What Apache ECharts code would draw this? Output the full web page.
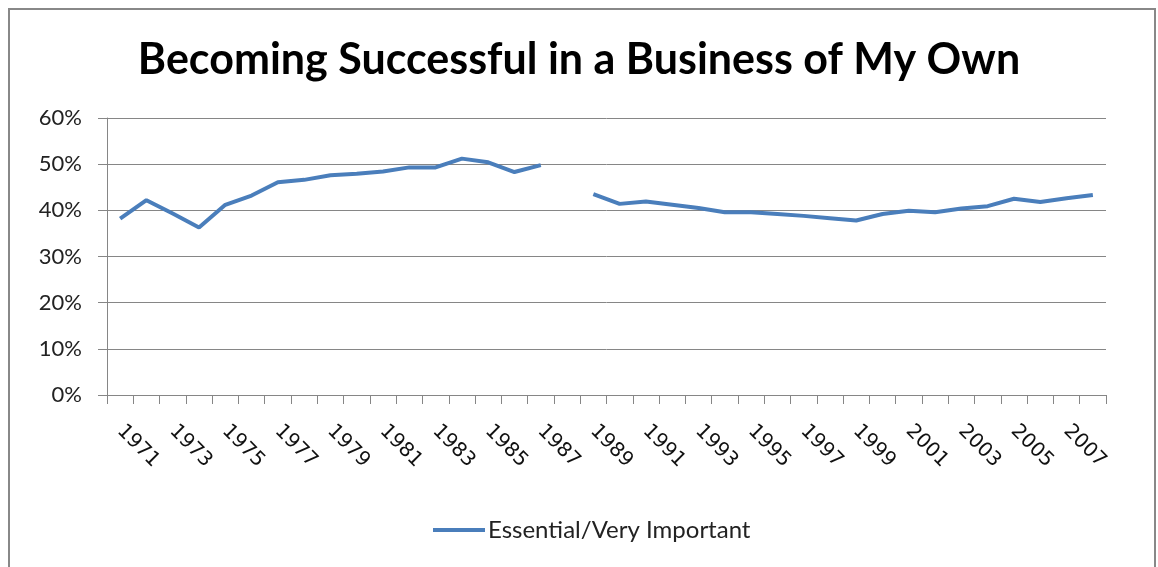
<!DOCTYPE html>
<html>
<head>
<meta charset="utf-8">
<script src="https://cdn.jsdelivr.net/npm/echarts@6/dist/echarts.min.js"></script>
<style>
html,body{margin:0;padding:0;background:#fff;}
#c{width:1158px;height:567px;}
</style>
</head>
<body>
<div id="c"></div>
<script>
var titleText = 'Becoming Successful in a Business of My Own';
var seriesName = 'Essential/Very Important';
var years = ['1971','1972','1973','1974','1975','1976','1977','1978','1979','1980',
             '1981','1982','1983','1984','1985','1986','1987','1988','1989','1990',
             '1991','1992','1993','1994','1995','1996','1997','1998','1999','2000',
             '2001','2002','2003','2004','2005','2006','2007','2008'];
var values = [38.2, 42.2, 39.3, 36.3, 41.2, 43.2, 46.1, 46.6, 47.6, 47.9,
              48.4, 49.3, 49.3, 51.2, 50.4, 48.3, 49.8, null, 43.5, 41.4,
              41.9, 41.2, 40.5, 39.6, 39.6, 39.2, 38.8, 38.3, 37.8, 39.2,
              39.9, 39.6, 40.4, 40.9, 42.5, 41.8, 42.6, 43.3];
var yTicks = [0, 10, 20, 30, 40, 50, 60];

var chart = echarts.init(document.getElementById('c'), null, {renderer: 'canvas'});
var option = {
  backgroundColor: '#ffffff',
  animation: false,
  title: {
    text: titleText,
    left: 'center',
    top: 34,
    textStyle: {fontFamily: 'Lato', fontWeight: 'bold', fontSize: 43, color: '#000'}
  },
  legend: {
    bottom: 20,
    left: 428,
    itemWidth: 52,
    itemHeight: 4,
    itemGap: 10,
    data: [{name: seriesName, icon: 'rect'}],
    textStyle: {fontFamily: 'Lato', fontSize: 24, color: '#222', padding: [0, 0, 0, -2]}
  },
  grid: {left: 107, right: 52, top: 118, bottom: 172, containLabel: false},
  xAxis: {
    type: 'category',
    data: years,
    boundaryGap: true,
    axisLine: {lineStyle: {color: '#868686', width: 1}},
    axisTick: {show: true, interval: 0, length: 9, lineStyle: {color: '#868686'}},
    axisLabel: {interval: 1, rotate: -45, margin: 33, fontFamily: 'DejaVu Sans', fontSize: 20, color: '#111'},
    splitLine: {show: false}
  },
  yAxis: {
    type: 'value',
    min: yTicks[0],
    max: yTicks[yTicks.length - 1],
    interval: 10,
    axisLine: {show: true, lineStyle: {color: '#868686', width: 1}},
    axisTick: {show: true, length: 9, lineStyle: {color: '#868686'}},
    axisLabel: {margin: 25, fontFamily: 'Lato', fontSize: 22, color: '#222', formatter: '{value}%'},
    splitLine: {show: true, lineStyle: {color: '#868686', width: 1}}
  },
  series: [{
    name: seriesName,
    type: 'line',
    data: values.map(function (v) { return v === null ? '-' : v; }),
    connectNulls: false,
    symbol: 'none',
    lineStyle: {color: '#4a7ebb', width: 4},
    itemStyle: {color: '#4a7ebb'}
  }],
  graphic: [{
    type: 'rect',
    shape: {x: 9, y: 9, width: 1146, height: 600},
    style: {fill: 'none', stroke: '#888888', lineWidth: 2},
    silent: true
  }]
};
chart.setOption(option);
</script>
</body>
</html>
